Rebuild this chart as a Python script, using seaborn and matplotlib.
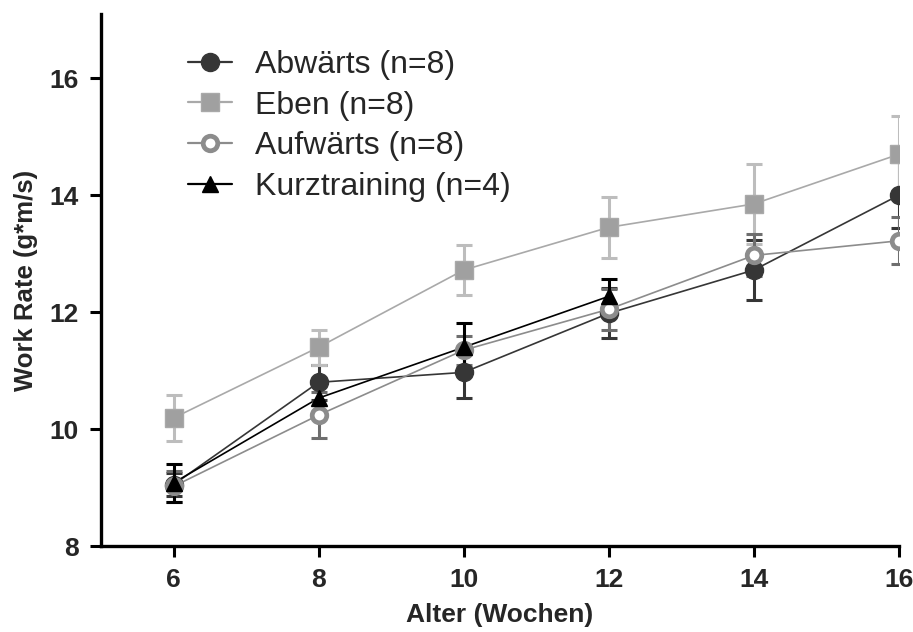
import numpy as np
import pandas as pd
import matplotlib
matplotlib.use("Agg")
import matplotlib.pyplot as plt
from matplotlib.lines import Line2D
import seaborn as sns

# Age in weeks
weeks = [6, 8, 10, 12, 14, 16]

# Group means and SEM of work rate (g*m/s)
abwaerts_mean = [9.05, 10.80, 10.97, 11.98, 12.72, 14.00]
abwaerts_sem = [0.20, 0.30, 0.44, 0.43, 0.51, 0.56]
eben_mean = [10.19, 11.40, 12.72, 13.45, 13.85, 14.70]
eben_sem = [0.40, 0.30, 0.42, 0.52, 0.68, 0.65]
aufwaerts_mean = [9.02, 10.24, 11.35, 12.05, 12.97, 13.22]
aufwaerts_sem = [0.26, 0.39, 0.25, 0.35, 0.36, 0.40]
kurz_mean = [9.08, 10.53, 11.40, 12.27, np.nan, np.nan]
kurz_sem = [0.33, 0.30, 0.41, 0.30, np.nan, np.nan]

labels = ["Abwärts (n=8)", "Eben (n=8)", "Aufwärts (n=8)", "Kurztraining (n=4)"]

sns.set_style("ticks")
plt.rcParams["font.family"] = ["Liberation Sans", "DejaVu Sans"]

groups = [
    dict(name=labels[0], mean=abwaerts_mean, sem=abwaerts_sem, color="#363636",
         marker="o", mfc="#363636", ms=13, mew=1, ecol="#363636"),
    dict(name=labels[1], mean=eben_mean, sem=eben_sem, color="#a9a9a9",
         marker="s", mfc="#a0a0a0", ms=12.5, mew=1, ecol="#bdbdbd"),
    dict(name=labels[2], mean=aufwaerts_mean, sem=aufwaerts_sem, color="#8c8c8c",
         marker="o", mfc="white", ms=10.5, mew=3.4, ecol="#6e6e6e"),
    dict(name=labels[3], mean=kurz_mean, sem=kurz_sem, color="#000000",
         marker="^", mfc="#000000", ms=11.5, mew=1, ecol="#000000"),
]

frames = []
for g in groups:
    frames.append(pd.DataFrame({"Alter": weeks, "Rate": g["mean"], "Gruppe": g["name"]}))
df = pd.concat(frames, ignore_index=True).dropna()

fig = plt.figure(figsize=(9.13, 6.32), dpi=100)
ax = fig.add_axes([0.1106, 0.136, 0.874, 0.842])

palette = {g["name"]: g["color"] for g in groups}
sns.lineplot(data=df, x="Alter", y="Rate", hue="Gruppe", palette=palette,
             hue_order=labels, linewidth=1.2, legend=False, ax=ax, zorder=2)

# error bars and markers per group
draw_order = [3, 2, 0, 1]
for i in draw_order:
    g = groups[i]
    m = np.array(g["mean"], dtype=float)
    s = np.array(g["sem"], dtype=float)
    ok = ~np.isnan(m)
    x = np.array(weeks)[ok]
    ax.errorbar(x, m[ok], yerr=s[ok], fmt="none", ecolor=g["ecol"],
                elinewidth=2.2, capsize=6, capthick=2.2, zorder=3 + i * 0.1)
    ax.plot(x, m[ok], linestyle="none", marker=g["marker"], ms=g["ms"],
            mfc=g["mfc"], mec=g["color"], mew=g["mew"], zorder=4 + i * 0.1)

ax.set_xlim(5.0, 16.0)
ax.set_ylim(8.0, 17.1)
ax.set_xticks(weeks)
ax.set_yticks([8, 10, 12, 14, 16])
ax.set_xlabel("Alter (Wochen)", fontsize=19, fontweight="bold", labelpad=8)
ax.set_ylabel("Work Rate (g*m/s)", fontsize=18.5, fontweight="bold", labelpad=8)
for lab in ax.get_xticklabels() + ax.get_yticklabels():
    lab.set_fontweight("bold")
ax.tick_params(axis="both", labelsize=19, width=2.2, length=8, color="black", pad=8)
for sp in ["left", "bottom"]:
    ax.spines[sp].set_linewidth(2.4)
    ax.spines[sp].set_color("black")
sns.despine(ax=ax)

handles = []
for g in groups:
    handles.append(Line2D([0], [0], color=g["color"], linewidth=1.6,
                          marker=g["marker"], ms=g["ms"], mfc=g["mfc"],
                          mec=g["color"], mew=g["mew"]))
ax.legend(handles, labels, loc="upper left", bbox_to_anchor=(0.093, 0.956),
          frameon=False, fontsize=23, handlelength=1.38, handletextpad=0.72,
          labelspacing=0.33, borderaxespad=0.0)

fig.savefig("out.png", dpi=100)
